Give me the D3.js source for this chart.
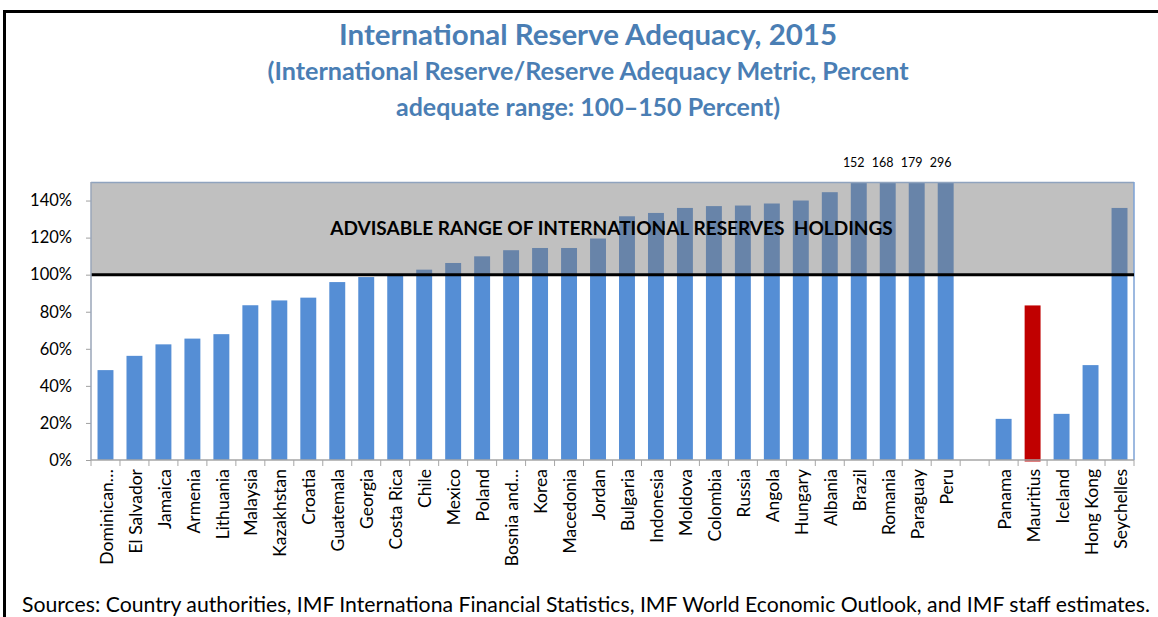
<!DOCTYPE html>
<html>
<head>
<meta charset="utf-8">
<script src="https://cdnjs.cloudflare.com/ajax/libs/d3/7.8.5/d3.min.js"></script>
<style>
  html, body { margin: 0; padding: 0; background: #fff; }
  svg { display: block; }
  text { font-family: Lato, "Open Sans", sans-serif; }
</style>
</head>
<body>
<svg id="chart" width="1158" height="617"></svg>
<script>
// ---------- data ----------
const countries = ["Dominican…", "El Salvador", "Jamaica", "Armenia", "Lithuania", "Malaysia",
  "Kazakhstan", "Croatia", "Guatemala", "Georgia", "Costa Rica", "Chile", "Mexico", "Poland",
  "Bosnia and…", "Korea", "Macedonia", "Jordan", "Bulgaria", "Indonesia", "Moldova", "Colombia",
  "Russia", "Angola", "Hungary", "Albania", "Brazil", "Romania", "Paraguay", "Peru",
  "", "Panama", "Mauritius", "Iceland", "Hong Kong", "Seychelles"];
const values = [48.5, 56.2, 62.4, 65.5, 67.9, 83.5,
  86.1, 87.6, 96.0, 98.7, 100.0, 102.7, 106.3, 109.9,
  113.2, 114.4, 114.4, 119.5, 131.5, 133.3, 136.0, 137.0,
  137.3, 138.4, 140.0, 144.5, 152, 168, 179, 296,
  null, 22.2, 83.4, 24.9, 51.2, 136.0];
const highlighted = ["Mauritius"];
const yTicks = [0, 20, 40, 60, 80, 100, 120, 140];
const adequateRange = [100, 150];
const titleLines = ["International Reserve Adequacy, 2015",
  "(International Reserve/Reserve Adequacy Metric, Percent",
  "adequate range: 100\u2013150 Percent)"];
const bandLabel = "ADVISABLE RANGE OF INTERNATIONAL RESERVES  HOLDINGS";
const sourceNote = "Sources: Country authorities, IMF Internationa Financial Statistics, IMF World Economic Outlook, and IMF staff estimates.";

// ---------- layout ----------
const svg = d3.select("#chart");
const plot = { left: 91, right: 1134, top: 182, bottom: 460 };

const x = d3.scaleBand().domain(d3.range(countries.length))
  .range([plot.left, plot.right]).paddingInner(0.45).paddingOuter(0.225);
const y = d3.scaleLinear().domain([0, 150]).range([plot.bottom, plot.top]);

const blue = "#558ED5", blueInBand = "#6884A9", red = "#C00000";

// frame
svg.append("line").attr("x1", 3).attr("x2", 1158).attr("y1", 11.5).attr("y2", 11.5)
  .attr("stroke", "#000").attr("stroke-width", 3);
svg.append("line").attr("x1", 4.5).attr("x2", 4.5).attr("y1", 10).attr("y2", 617)
  .attr("stroke", "#000").attr("stroke-width", 3);

// helper to fit text widths
function fit(sel, targetWidth) {
  const node = sel.node();
  const fs = parseFloat(sel.attr("font-size"));
  const w = node.getComputedTextLength();
  sel.attr("font-size", (fs * targetWidth / w).toFixed(2));
}

// titles
const titleSpecs = [
  { cy: 35, w: 498, fs: 26 },
  { cy: 71, w: 641, fs: 21 },
  { cy: 107, w: 384, fs: 21 }];
titleLines.forEach((t, i) => {
  const s = svg.append("text").attr("x", 588).attr("y", titleSpecs[i].cy)
    .attr("dy", "0.35em").attr("text-anchor", "middle")
    .attr("font-weight", "bold").attr("fill", "#4A7EB4")
    .attr("font-size", titleSpecs[i].fs).text(t);
  fit(s, titleSpecs[i].w);
});

// band
svg.append("rect").attr("x", plot.left).attr("width", plot.right - plot.left)
  .attr("y", y(adequateRange[1])).attr("height", y(adequateRange[0]) - y(adequateRange[1]))
  .attr("fill", "#C0C0C0");

// bars
const data = countries.map((c, i) => ({ c, i, v: values[i] })).filter(d => d.v != null);
const bars = svg.append("g");
// lower part (0 .. min(v,100))
bars.selectAll("rect.low").data(data).join("rect").attr("class", "low")
  .attr("x", d => x(d.i)).attr("width", x.bandwidth())
  .attr("y", d => y(Math.min(d.v, adequateRange[0])))
  .attr("height", d => y(0) - y(Math.min(d.v, adequateRange[0])) + (highlighted.includes(d.c) ? 1.5 : 0))
  .attr("fill", d => highlighted.includes(d.c) ? red : blue);
// part inside the band
bars.selectAll("rect.high").data(data.filter(d => d.v > adequateRange[0])).join("rect").attr("class", "high")
  .attr("x", d => x(d.i)).attr("width", x.bandwidth())
  .attr("y", d => y(Math.min(d.v, 150)))
  .attr("height", d => y(adequateRange[0]) - y(Math.min(d.v, 150)))
  .attr("fill", blueInBand);

// band borders
svg.append("line").attr("x1", plot.left).attr("x2", plot.right)
  .attr("y1", plot.top + 0.5).attr("y2", plot.top + 0.5).attr("stroke", "#8FA3BE").attr("stroke-width", 1.5);
svg.append("line").attr("x1", plot.right).attr("x2", plot.right)
  .attr("y1", plot.top).attr("y2", plot.bottom).attr("stroke", "#7DA2D6").attr("stroke-width", 1.5);

// 100% line
svg.append("line").attr("x1", plot.left).attr("x2", plot.right)
  .attr("y1", y(adequateRange[0])).attr("y2", y(adequateRange[0]))
  .attr("stroke", "#000").attr("stroke-width", 3);

// value labels for clipped bars
svg.append("g").selectAll("text").data(data.filter(d => d.v > 150)).join("text")
  .attr("x", d => x(d.i) + x.bandwidth() / 2 - 5).attr("y", y(150) - 15)
  .attr("text-anchor", "middle").attr("font-size", 12.5).attr("fill", "#000")
  .text(d => d3.format("d")(d.v));

// band label
const bl = svg.append("text").attr("x", 611.5).attr("y", 228).attr("dy", "0.35em")
  .attr("text-anchor", "middle").attr("font-weight", "bold").attr("font-size", 17)
  .attr("fill", "#000").attr("xml:space", "preserve").style("white-space", "pre").text(bandLabel);
fit(bl, 563);

// y axis
const yAxis = svg.append("g").attr("transform", `translate(${plot.left},0)`)
  .call(d3.axisLeft(y).tickValues(yTicks).tickFormat(d => d + "%").tickSize(5).tickPadding(14));
yAxis.select(".domain").remove();
yAxis.selectAll(".tick line").attr("stroke", "#A0A0A0");
yAxis.selectAll(".tick text").attr("font-size", 16.5).attr("fill", "#000").attr("font-family", "Lato");
svg.append("line").attr("x1", plot.left).attr("x2", plot.left).attr("y1", plot.top).attr("y2", plot.bottom)
  .attr("stroke", "#9AA6B8").attr("stroke-width", 1.5);

// x axis
svg.append("line").attr("x1", plot.left).attr("x2", plot.right).attr("y1", plot.bottom).attr("y2", plot.bottom)
  .attr("stroke", "#A6A6A6").attr("stroke-width", 1.5);
svg.append("g").selectAll("line").data(d3.range(countries.length + 1)).join("line")
  .attr("x1", i => x.range()[0] + i * x.step()).attr("x2", i => x.range()[0] + i * x.step())
  .attr("y1", plot.bottom).attr("y2", plot.bottom + 6)
  .attr("stroke", "#A6A6A6").attr("stroke-width", 1);
svg.append("g").selectAll("text").data(countries.map((c, i) => ({ c, i }))).join("text")
  .attr("transform", d => `translate(${x(d.i) + x.bandwidth() / 2 + 1},${plot.bottom + 9}) rotate(-90)`)
  .attr("dy", "0.35em").attr("text-anchor", "end").attr("font-size", 17.5).attr("fill", "#000")
  .text(d => d.c);

// source note
const sn = svg.append("text").attr("x", 22).attr("y", 605).attr("dy", "0.35em")
  .attr("font-size", 18).attr("fill", "#000").text(sourceNote);
fit(sn, 1128);
</script>
</body>
</html>
